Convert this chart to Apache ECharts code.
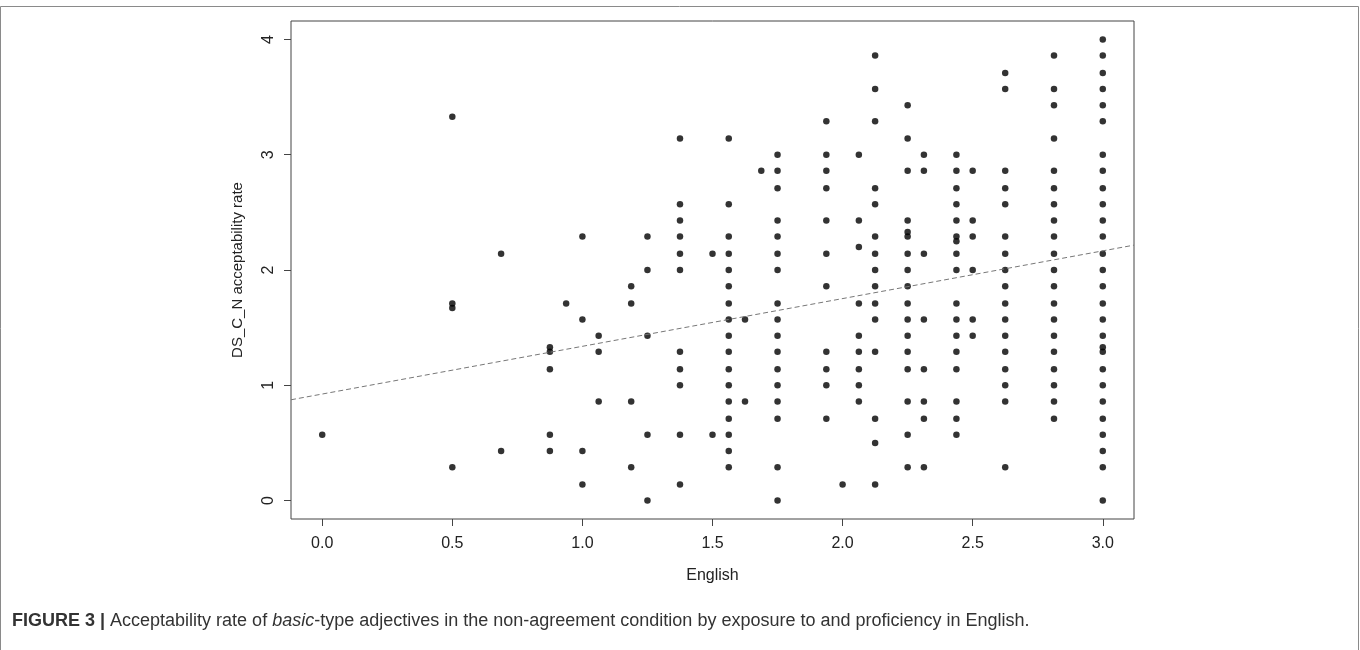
<!DOCTYPE html>
<html>
<head>
<meta charset="utf-8">
<script src="https://cdn.jsdelivr.net/npm/echarts@6/dist/echarts.min.js"></script>
<style>
    html, body { margin: 0; padding: 0; background: #fff; }
    #main { width: 1360px; height: 650px; }
</style>
</head>
<body>
<div id="main"></div>
<script>
// English exposure/proficiency score of each column of dots
var englishScores = [0, 0.5, 0.6875, 0.875, 0.9375, 1.0, 1.0625, 1.1875, 1.25, 1.375, 1.5,
    1.5625, 1.625, 1.6875, 1.75, 1.9375, 2.0, 2.0625, 2.125, 2.25, 2.3125, 2.4375, 2.5,
    2.625, 2.8125, 3.0];

// DS_C_N acceptability rates found at each english score (same order)
var rates = [
    [0.57],
    [3.33, 1.71, 1.67, 0.29],
    [2.14, 0.43],
    [1.33, 1.29, 1.14, 0.57, 0.43],
    [1.71],
    [2.29, 1.57, 0.43, 0.14],
    [1.43, 1.29, 0.86],
    [1.86, 1.71, 0.86, 0.29],
    [2.29, 2.0, 1.43, 0.57, 0],
    [3.14, 2.57, 2.43, 2.29, 2.14, 2.0, 1.29, 1.14, 1.0, 0.57, 0.14],
    [2.14, 0.57],
    [3.14, 2.57, 2.29, 2.14, 2.0, 1.86, 1.71, 1.57, 1.43, 1.29, 1.14, 1.0, 0.86, 0.71, 0.57, 0.43, 0.29],
    [1.57, 0.86],
    [2.86],
    [3.0, 2.86, 2.71, 2.43, 2.29, 2.14, 2.0, 1.71, 1.57, 1.43, 1.29, 1.14, 1.0, 0.86, 0.71, 0.29, 0],
    [3.29, 3.0, 2.86, 2.71, 2.43, 2.14, 1.86, 1.29, 1.14, 1.0, 0.71],
    [0.14],
    [3.0, 2.43, 2.2, 1.71, 1.43, 1.29, 1.14, 1.0, 0.86],
    [3.86, 3.57, 3.29, 2.71, 2.57, 2.29, 2.14, 2.0, 1.86, 1.71, 1.57, 1.29, 0.71, 0.5, 0.14],
    [3.43, 3.14, 2.86, 2.43, 2.33, 2.29, 2.14, 2.0, 1.86, 1.71, 1.57, 1.43, 1.29, 1.14, 0.86, 0.57, 0.29],
    [3.0, 2.86, 2.14, 1.57, 1.14, 0.86, 0.71, 0.29],
    [3.0, 2.86, 2.71, 2.57, 2.43, 2.29, 2.25, 2.14, 2.0, 1.71, 1.57, 1.43, 1.29, 1.14, 0.86, 0.71, 0.57],
    [2.86, 2.43, 2.29, 2.0, 1.57, 1.43],
    [3.71, 3.57, 2.86, 2.71, 2.57, 2.29, 2.14, 2.0, 1.86, 1.71, 1.57, 1.43, 1.29, 1.14, 1.0, 0.86, 0.29],
    [3.86, 3.57, 3.43, 3.14, 2.86, 2.71, 2.57, 2.43, 2.29, 2.14, 2.0, 1.86, 1.71, 1.57, 1.43, 1.29, 1.14, 1.0, 0.86, 0.71],
    [4.0, 3.86, 3.71, 3.57, 3.43, 3.29, 3.0, 2.86, 2.71, 2.57, 2.43, 2.29, 2.14, 2.0, 1.86, 1.71, 1.57, 1.43, 1.33, 1.29, 1.14, 1.0, 0.86, 0.71, 0.57, 0.43, 0.29, 0]
];

// axis ticks
var xTicks = [0, 0.5, 1.0, 1.5, 2.0, 2.5, 3.0];
var yTicks = [0, 1, 2, 3, 4];

// fitted line
var fitIntercept = 0.924;
var fitSlope = 0.414;

var xMin = -0.12, xMax = 3.12;
var yMin = -0.16, yMax = 4.16;

var font = "'Liberation Sans', Arial, Helvetica, sans-serif";

window.onload = function () {
    initScatter();
};

var chart;
function initScatter() {
    chart = echarts.init(document.getElementById('main'));

    var points = [];
    for (var i = 0; i < englishScores.length; i++) {
        for (var j = 0; j < rates[i].length; j++) {
            points.push([englishScores[i], rates[i][j]]);
        }
    }
    var fitLine = [
        [xMin, fitIntercept + fitSlope * xMin],
        [xMax, fitIntercept + fitSlope * xMax]
    ];

    var option = {
        animation: false,
        title: {
            left: 7,
            top: 607,
            text: '{b|FIGURE 3 |} Acceptability rate of {i|basic}-type adjectives in the non-agreement condition by exposure to and proficiency in English.',
            textStyle: {
                fontFamily: font,
                fontSize: 18,
                fontWeight: 'normal',
                color: '#333',
                rich: {
                    b: { fontFamily: font, fontSize: 18, fontWeight: 'bold', color: '#333' },
                    i: { fontFamily: font, fontSize: 18, fontStyle: 'italic', color: '#333' }
                }
            }
        },
        graphic: [
            {
                type: 'rect',
                shape: { x: 0.5, y: 6.5, width: 1358, height: 700 },
                style: { fill: 'none', stroke: '#8a8a8a', lineWidth: 1 },
                silent: true
            }
        ],
        grid: {
            left: 291,
            top: 21,
            width: 843,
            height: 498,
            show: true,
            borderColor: '#444',
            borderWidth: 1,
            backgroundColor: 'transparent'
        },
        xAxis: {
            type: 'value',
            min: xMin,
            max: xMax,
            name: 'English',
            nameLocation: 'middle',
            nameGap: 49,
            nameTextStyle: { fontFamily: font, fontSize: 16, color: '#222' },
            splitLine: { show: false },
            axisLine: { show: false, onZero: false },
            axisTick: {
                show: true,
                length: 7,
                customValues: xTicks,
                lineStyle: { color: '#444' }
            },
            axisLabel: {
                customValues: xTicks,
                margin: 17,
                fontFamily: font,
                fontSize: 16,
                color: '#222',
                formatter: function (v) { return v.toFixed(1); }
            }
        },
        yAxis: {
            type: 'value',
            min: yMin,
            max: yMax,
            name: 'DS_C_N acceptability rate',
            nameLocation: 'middle',
            nameRotate: 90,
            nameGap: 46,
            nameTextStyle: { fontFamily: font, fontSize: 15, color: '#222' },
            splitLine: { show: false },
            axisLine: { show: false, onZero: false },
            axisTick: {
                show: true,
                length: 7,
                customValues: yTicks,
                lineStyle: { color: '#444' }
            },
            axisLabel: {
                customValues: yTicks,
                rotate: 90,
                margin: 14,
                fontFamily: font,
                fontSize: 16,
                color: '#222'
            }
        },
        series: [
            {
                name: 'rate',
                type: 'scatter',
                symbol: 'circle',
                symbolSize: 6.5,
                itemStyle: { color: '#000' },
                data: points
            },
            {
                name: 'fit',
                type: 'line',
                symbol: 'none',
                silent: true,
                lineStyle: { color: '#777', width: 1, type: [5, 3] },
                data: fitLine
            }
        ]
    };

    chart.setOption(option);
}
</script>
</body>
</html>
